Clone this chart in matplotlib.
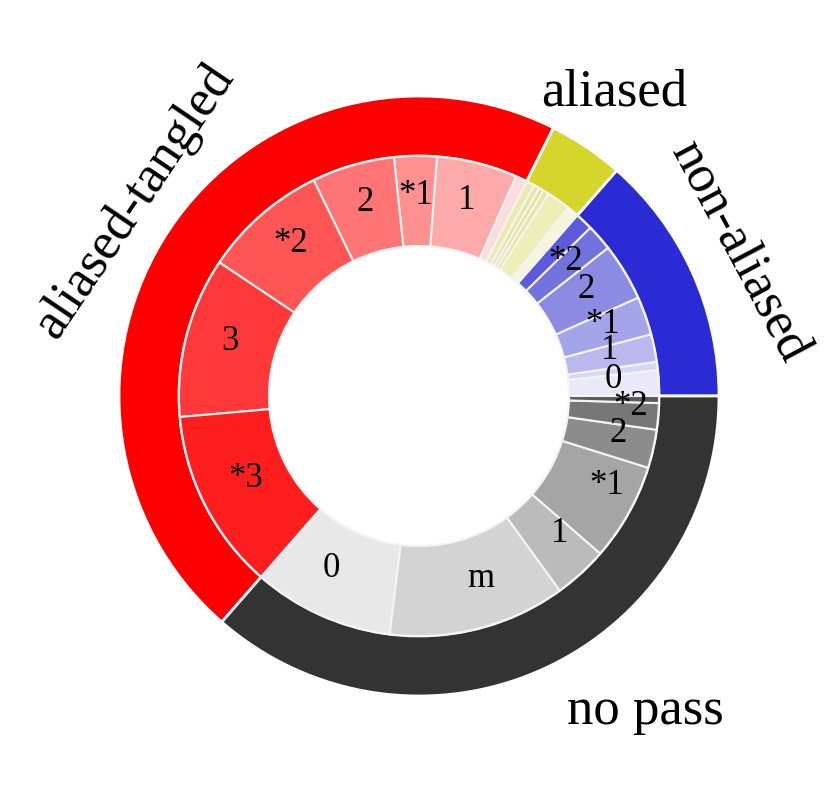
import matplotlib.pyplot as plt

plt.rcParams['font.family'] = ['Liberation Serif', 'DejaVu Serif']

# outer groups (counter-clockwise from 0 deg)
groups = ['non-aliased', 'aliased', 'aliased-tangled', 'no pass']
group_colors = ['#2b2bd5', '#d5d52b', '#ff0000', '#333333']

# inner shares (% of all), per group, light -> dark
blue_vals = [1.72, 0.56, 1.86, 2.58, 3.86, 1.78, 1.19]
blue_labels = ['0', '', '1', '*1', '2', '*2', '']
blue_colors = ['#e9e9fa', '#d6d6f6', '#b9b9ef', '#a4a4ea', '#8b8be4', '#7272df', '#5b5bdb']

yellow_vals = [0.81, 1.58, 0.39, 0.33, 0.39, 0.56]
yellow_labels = ['', '', '', '', '', '']
yellow_colors = ['#f6f6dd', '#eeeeb9', '#e6e69d', '#e3e393', '#e6e69d', '#ebebb0']

red_vals = [0.78, 5.42, 2.86, 5.56, 8.39, 10.78, 12.19]
red_labels = ['', '1', '*1', '2', '*2', '3', '*3']
red_colors = ['#ffdddd', '#ffaaaa', '#ff9090', '#ff7575', '#ff5555', '#ff3939', '#ff1e1e']

gray_vals = [9.47, 11.92, 3.64, 6.56, 2.58, 1.78, 0.47]
gray_labels = ['0', 'm', '1', '*1', '2', '*2', '']
gray_colors = ['#e8e8e8', '#d3d3d3', '#bbbbbb', '#a5a5a5', '#8c8c8c', '#777777', '#5a5a5a']

inner_vals = blue_vals + yellow_vals + red_vals + gray_vals
inner_labels = blue_labels + yellow_labels + red_labels + gray_labels
inner_colors = blue_colors + yellow_colors + red_colors + gray_colors
outer_vals = [sum(blue_vals), sum(yellow_vals), sum(red_vals), sum(gray_vals)]

fig = plt.figure(figsize=(8.31, 7.92), dpi=100)
ax = fig.add_axes([0, 0, 1, 1])

ax.pie(outer_vals, radius=1.0, colors=group_colors, startangle=0,
       wedgeprops=dict(width=0.2, edgecolor='white', linewidth=2))

wedges, texts = ax.pie(inner_vals, radius=0.8, colors=inner_colors, labels=inner_labels,
                       startangle=0, labeldistance=0.8125,
                       wedgeprops=dict(width=0.3, edgecolor='#f4f4f4', linewidth=1.5),
                       textprops=dict(fontsize=25, ha='center', va='center'))

# nudge inner labels up a little
for t in texts:
    x, y = t.get_position()
    t.set_position((x, y + 0.02))

# the "no pass" labels sit beside their anchor instead of centred on it
n_gray = len(gray_vals)
for t in texts[-n_gray:]:
    x, y = t.get_position()
    t.set_ha('left' if x > 0 else 'right')

# outer group labels
label_pos = [(1.07, 0.48, -62), (0.65, 1.01, 0), (-0.95, 0.65, 56), (0.753, -1.05, 0)]
for name, (x, y, rot) in zip(groups, label_pos):
    ax.text(x, y, name, fontsize=38, rotation=rot, ha='center', va='center')

ax.set_xlim(-419 / 300, (831 - 419) / 300)
ax.set_ylim(-396 / 300, 396 / 300)
ax.set_aspect('auto')
ax.axis('off')

plt.savefig('out.png', dpi=100)
